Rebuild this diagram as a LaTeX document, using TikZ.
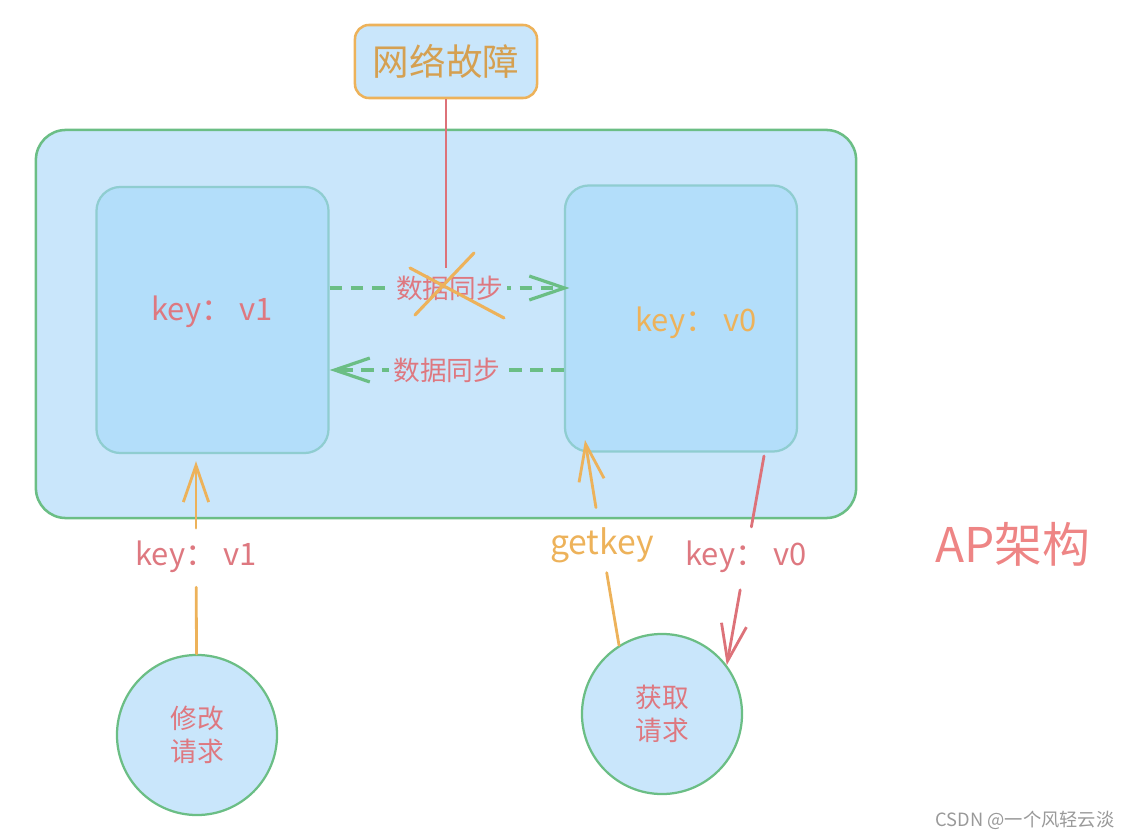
\documentclass[tikz,border=0pt]{standalone}
\usepackage{fontspec}
\setmainfont{Noto Sans CJK SC}
\usetikzlibrary{arrows.meta}

\definecolor{skyfill}{HTML}{C9E6FB}
\definecolor{boxfill}{HTML}{B3DEFA}
\definecolor{boxedge}{HTML}{8FCDD0}
\definecolor{apgreen}{HTML}{6BBE85}
\definecolor{netorange}{HTML}{EDB25A}
\definecolor{txtred}{HTML}{DE7880}
\definecolor{linered}{HTML}{DD7279}
\definecolor{tagred}{HTML}{EE8585}

\tikzset{
    innerbox/.style={draw=boxedge, fill=boxfill, line width=1.6pt, rounded corners=0.6cm,
        minimum width=5.8cm, minimum height=6.65cm},
    reqcircle/.style={draw=apgreen, fill=skyfill, circle, line width=1.6pt, minimum size=4cm,
        text=txtred, align=center, font=\fontsize{19}{23}\selectfont},
    keytext/.style={inner sep=2pt, font=\fontsize{22}{26}\selectfont},
    synctext/.style={fill=skyfill, inner sep=3pt, text=txtred, font=\fontsize{19}{23}\selectfont},
}

\begin{document}
\begin{tikzpicture}[x=0.025cm, y=-0.025cm]
    \useasboundingbox (0,0) rectangle (1136,839);

    \begin{scope}[every node/.style={inner sep=0pt}]
        \node[draw=apgreen, fill=skyfill, line width=1.8pt, rounded corners=0.75cm,
            minimum width=20.5cm, minimum height=9.7cm] (ap) at (446,324) {};
        \node[innerbox] (L) at (212.5,320) {};
        \node[innerbox] (R) at (681,318.5) {};
        \node[draw=netorange, fill=skyfill, line width=1.8pt, rounded corners=0.35cm,
            minimum width=4.55cm, minimum height=1.825cm, text=netorange!90!black,
            font=\fontsize{26}{30}\selectfont] (net) at (446,61.5) {网络故障};
        \node[reqcircle] (m) at (197,735) {修改\\请求};
        \node[reqcircle] (q) at (662,714) {获取\\请求};
    \end{scope}

    \begin{scope}[every node/.style={keytext}]
        \node[text=txtred] (kl) at (212,312) {key： v1};
        \node[text=netorange] (kr) at (696,323) {key： v0};
        \node[text=txtred] (k1) at (196,557) {key： v1};
        \node[text=netorange, font=\fontsize{24}{28}\selectfont] (g) at (602,545) {getkey};
        \node[text=txtred] (k0) at (746,557) {key： v0};
        \node[text=tagred, font=\fontsize{34}{40}\selectfont] (tag) at (1013,544) {AP架构};
        \node[text=black!40, font=\fontsize{13}{16}\selectfont] (csdn) at (1025,820) {CSDN @一个风轻云淡};
    \end{scope}

    \coordinate (row1) at (0,288);
    \coordinate (row2) at (0,370);
    \coordinate (cut) at (446,268);
    \coordinate (gt) at (585,440);
    \coordinate (rt) at (764,456);

    % data sync
    \begin{scope}[every path/.style={line width=2.3pt, apgreen, dash pattern=on 9pt off 6pt,
            -{Straight Barb[length=25pt, width=17pt]}}]
        \draw (L.east |- row1) -- node[synctext] {数据同步} ([xshift=4pt]R.west |- row1);
        \draw (R.west |- row2) -- node[synctext] {数据同步} (L.east |- row2);
    \end{scope}

    % network failure
    \draw[linered, line width=1.8pt] (net.south) -- (cut);
    \draw[netorange, line width=2.2pt, line cap=round] (415,315) -- (474,253);
    \draw[netorange, line width=2.2pt, line cap=round] (410,268) -- (504,318);

    % requests
    \begin{scope}[every path/.style={line width=2pt, line cap=round}]
        \draw[netorange, -{Straight Barb[length=26pt, width=18pt]}, shorten <=7pt, shorten >=5pt]
            (k1) -- (k1 |- L.south);
        \draw[netorange, shorten <=8pt] (k1) -- (m);
        \draw[netorange, -{Straight Barb[length=26pt, width=18pt]}, shorten <=12pt] (g) -- (gt);
        \draw[netorange, shorten <=5pt] (g) -- (q.122);
        \draw[linered, shorten >=8pt] (rt) -- (k0);
        \draw[linered, -{Straight Barb[length=26pt, width=18pt]}, shorten <=10pt] (k0) -- (q.37);
    \end{scope}
\end{tikzpicture}
\end{document}
